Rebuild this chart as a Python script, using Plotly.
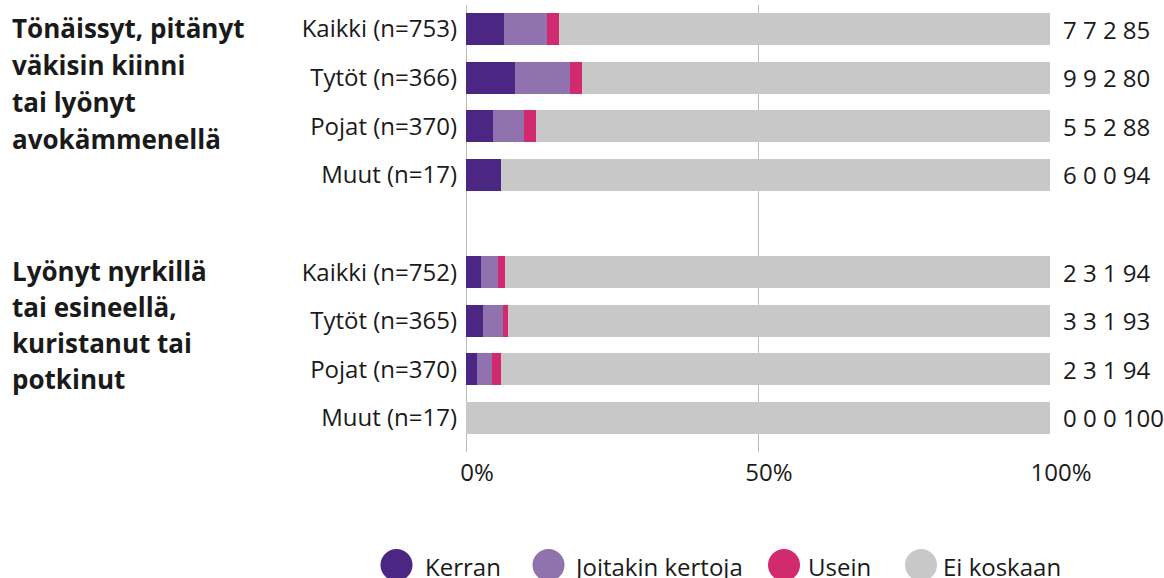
import plotly.graph_objects as go

# ---- data ----
row_labels = ["Kaikki (n=753)", "Tytöt (n=366)", "Pojat (n=370)", "Muut (n=17)", "",
              "Kaikki (n=752)", "Tytöt (n=365)", "Pojat (n=370)", "Muut (n=17)"]
series_names = ["Kerran", "Joitakin kertoja", "Usein", "Ei koskaan"]
kerran    = [6.5, 8.4, 4.6, 6.0, None, 2.5, 2.9, 1.9, 0.0]
joitakin  = [7.4, 9.4, 5.3, 0.0, None, 2.9, 3.4, 2.6, 0.0]
usein     = [2.1, 2.1, 2.1, 0.0, None, 1.2, 0.9, 1.5, 0.0]
ei_koskaan = [84.0, 80.1, 88.0, 94.0, None, 93.4, 92.8, 94.0, 100.0]
value_labels = ["7 7 2 85", "9 9 2 80", "5 5 2 88", "6 0 0 94", "",
                "2 3 1 94", "3 3 1 93", "2 3 1 94", "0 0 0 100"]
group_titles = [["Tönäissyt, pitänyt", "väkisin kiinni", "tai lyönyt", "avokämmenellä"],
                ["Lyönyt nyrkillä", "tai esineellä,", "kuristanut tai", "potkinut"]]
x_ticks = [0, 50, 100]
x_ticktext = ["0%", "50%", "100%"]

colors = ["#4B2683", "#8F72AE", "#D22A6E", "#C8C8C8"]
FONT = "Open Sans"
TXT = "#1a1a1a"

W, H = 1164, 578
ML, MR, MT, MB = 466, 114, 5, 126
PW, PH = W - ML - MR, H - MT - MB

def px_x(px):
    return (px - ML) / PW

def px_y(py):
    return (H - MB - py) / PH

ypos = list(range(len(row_labels)))

fig = go.Figure()
for name, vals, col in zip(series_names, [kerran, joitakin, usein, ei_koskaan], colors):
    fig.add_trace(go.Bar(
        y=ypos, x=vals, name=name, orientation="h",
        marker=dict(color=col, line=dict(width=0)),
        width=0.66, showlegend=False, hoverinfo="x+name",
    ))

annotations = []
# right value labels
for yi, lab in zip(ypos, value_labels):
    if lab:
        annotations.append(dict(x=px_x(1061), xref="paper", y=yi, yref="y",
                                text=lab, showarrow=False, xanchor="left", yanchor="middle",
                                font=dict(family=FONT, size=24, color=TXT)))
# group titles
title_centers = [[28, 65, 102, 139], [271, 307, 343, 379]]
for lines, centers in zip(group_titles, title_centers):
    for line, cy in zip(lines, centers):
        annotations.append(dict(x=px_x(10), xref="paper", y=px_y(cy), yref="paper",
                                text="<b>" + line + "</b>", showarrow=False,
                                xanchor="left", yanchor="middle",
                                font=dict(family=FONT, size=26, color=TXT)))

# manual legend
leg_circle_x = [396.5, 548.5, 784, 921]
leg_text_x = [423, 572, 806, 941]
shapes = []
for name, col, cx, tx in zip(series_names, colors, leg_circle_x, leg_text_x):
    shapes.append(dict(type="circle", xref="paper", yref="paper",
                       xsizemode="pixel", ysizemode="pixel",
                       xanchor=px_x(cx), yanchor=px_y(565),
                       x0=-16, x1=16, y0=-16, y1=16,
                       fillcolor=col, line=dict(width=0)))
    annotations.append(dict(x=px_x(tx), xref="paper", y=px_y(566), yref="paper",
                            text=name, showarrow=False, xanchor="left", yanchor="middle",
                            font=dict(family=FONT, size=24, color=TXT)))

fig.update_layout(
    width=W, height=H,
    margin=dict(l=ML, r=MR, t=MT, b=MB, pad=0),
    barmode="stack", bargap=0,
    plot_bgcolor="white", paper_bgcolor="white",
    font=dict(family=FONT, size=24, color=TXT),
    showlegend=False,
    annotations=annotations, shapes=shapes,
    xaxis=dict(range=[0, 100], tickvals=x_ticks, ticktext=x_ticktext,
               showgrid=True, gridcolor="#BDBDBD", gridwidth=1,
               zeroline=True, zerolinecolor="#BDBDBD", zerolinewidth=1,
               showline=False, ticks="", ticklabelshift=11, ticklabelstandoff=4,
               tickfont=dict(family=FONT, size=24, color=TXT), fixedrange=True),
    yaxis=dict(range=[8.70, -0.494], tickvals=ypos, ticktext=row_labels,
               showgrid=False, zeroline=False, showline=False, ticks="",
               ticklabelstandoff=8,
               tickfont=dict(family=FONT, size=24, color=TXT), fixedrange=True),
)

fig.write_html("out.html", config={"displayModeBar": False},
               post_script="document.body.style.margin='0';document.body.style.overflow='hidden';")
